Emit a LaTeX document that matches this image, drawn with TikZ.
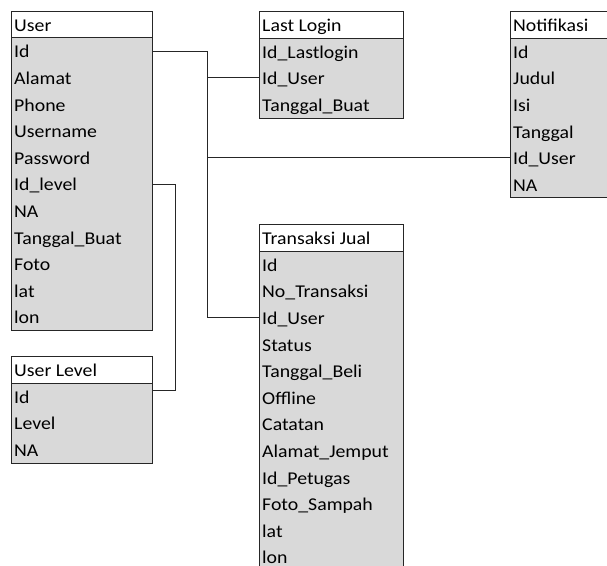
\documentclass[tikz,border=0pt]{standalone}
\usepackage{fontspec}
\setmainfont{Carlito}[FakeStretch=1.1]
\begin{document}
\begin{tikzpicture}[x=1pt,y=-1pt,
  hdr/.style={draw=black!85, fill=white, line width=0.8pt, inner sep=0pt, anchor=north west, minimum height=26.5pt},
  tbody/.style={draw=black!85, fill=black!15, line width=0.8pt, inner sep=0pt, anchor=north west},
  field/.style={anchor=base west, inner sep=0pt, font=\fontsize{18}{19}\selectfont},
  link/.style={draw=black!85, line width=0.8pt}]
\useasboundingbox (0,0) rectangle (607,565);
\clip (0,0) rectangle (607,565);
\def\rh{26.6}
\def\bl{7.3}

% User
\node[hdr, minimum width=141pt] (user-h) at (11,11) {};
\node[field] (user-t) at (14,{24+\bl}) {User};
\node[tbody, minimum width=141pt, minimum height=293pt] (user) at (11,37.3) {};
\foreach \f [count=\i] in {Id,Alamat,Phone,Username,Password,Id\_level,NA,Tanggal\_Buat,Foto,lat,lon}
  \node[field] (user-\i) at (14,{37.3+\rh*(\i-0.5)+\bl}) {\f};

% User Level
\node[hdr, minimum width=141pt] (lvl-h) at (11,356) {};
\node[field] (lvl-t) at (14,{369.5+\bl}) {User Level};
\node[tbody, minimum width=141pt, minimum height=80pt] (lvl) at (11,382.6) {};
\foreach \f [count=\i] in {Id,Level,NA}
  \node[field] (lvl-\i) at (14,{382.6+\rh*(\i-0.5)+\bl}) {\f};

% Last Login
\node[hdr, minimum width=144pt] (last-h) at (259,11) {};
\node[field] (last-t) at (262,{24+\bl}) {Last Login};
\node[tbody, minimum width=144pt, minimum height=80pt] (last) at (259,37.7) {};
\foreach \f [count=\i] in {Id\_Lastlogin,Id\_User,Tanggal\_Buat}
  \node[field] (last-\i) at (262,{37.7+\rh*(\i-0.5)+\bl}) {\f};

% Notifikasi
\node[hdr, minimum width=110pt] (notif-h) at (510,11) {};
\node[field] (notif-t) at (513,{24+\bl}) {Notifikasi};
\node[tbody, minimum width=110pt, minimum height=159.5pt] (notif) at (510,37.7) {};
\foreach \f [count=\i] in {Id,Judul,Isi,Tanggal,Id\_User,NA}
  \node[field] (notif-\i) at (513,{37.7+\rh*(\i-0.5)+\bl}) {\f};

% Transaksi Jual
\node[hdr, minimum width=144pt] (trx-h) at (259,224) {};
\node[field] (trx-t) at (262,{237.5+\bl}) {Transaksi Jual};
\node[tbody, minimum width=144pt, minimum height=330pt] (trx) at (259,250.7) {};
\foreach \f [count=\i] in {Id,No\_Transaksi,Id\_User,Status,Tanggal\_Beli,Offline,Catatan,Alamat\_Jemput,Id\_Petugas,Foto\_Sampah,lat,lon}
  \node[field] (trx-\i) at (262,{250.7+\rh*(\i-0.5)+\bl}) {\f};

% Relations from User.Id
\coordinate (bus) at (207.7,0);
\coordinate (uid) at (0,51);
\coordinate (llid) at (0,77.7);
\coordinate (nid) at (0,157.7);
\coordinate (tid) at (0,317.5);
\draw[link] (user.east |- uid) -| (bus |- tid) -- (trx.west |- tid);
\draw[link] (bus |- llid) -- (last.west |- llid);
\draw[link] (bus |- nid) -- (notif.west |- nid);

% Relation User.Id_level -> User Level.Id
\coordinate (lvlbus) at (175,0);
\coordinate (ulid) at (0,184);
\coordinate (lvlid) at (0,390);
\draw[link] (user.east |- ulid) -| (lvlbus |- lvlid) -- (lvl.east |- lvlid);
\end{tikzpicture}
\end{document}
